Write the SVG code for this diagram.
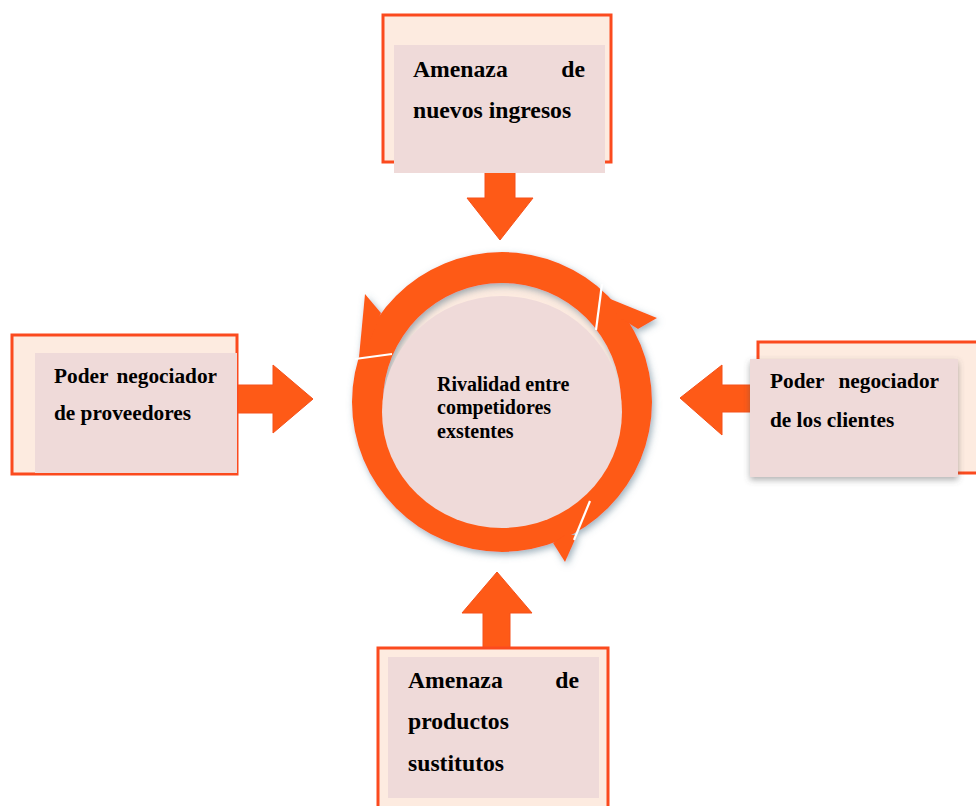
<svg xmlns="http://www.w3.org/2000/svg" width="976" height="806" viewBox="0 0 976 806">
<defs>
<filter id="sh" x="-20%" y="-20%" width="140%" height="140%">
<feDropShadow dx="2" dy="3" stdDeviation="3.5" flood-color="#4f6f86" flood-opacity="0.55"/>
</filter>
<filter id="shb" x="-20%" y="-20%" width="140%" height="140%">
<feDropShadow dx="0" dy="3" stdDeviation="3" flood-color="#555" flood-opacity="0.45"/>
</filter>
</defs>
<style>
.outer{fill:#fdebe0;stroke:#fb4a1e;stroke-width:3}
.pink{fill:#efdad9}
.arrow{fill:#fe5a17;stroke:#f5501a;stroke-width:1}
.ring{fill:#fe5a17}
.gap{stroke:#ffffff;stroke-width:2.2;fill:none}
.t{font-family:"Liberation Serif","Times New Roman",serif;font-weight:bold;fill:#000}
.t24{font-size:23.7px}
.t21{font-size:21.3px}
.t20{font-size:20px}
</style>
<rect width="976" height="806" fill="#ffffff"/>

<g id="connectors">
<path class="arrow" d="M485,172 L515,172 L515,198 L533,198 L500,240 L467,198 L485,198 Z"/>
<path class="arrow" d="M237,385 L273,385 L273,365 L313,399 L273,433 L273,413 L237,413 Z"/>
<path class="arrow" d="M752,385 L722,385 L722,365 L680,398 L722,435 L722,412 L752,412 Z"/>
<path class="arrow" d="M483,649 L483,613 L462,613 L497,572 L532,613 L510,613 L510,649 Z"/>
</g>

<g id="node-center">
<circle cx="502" cy="402" r="120" fill="#fdebe0"/>
<g filter="url(#sh)">
<path class="ring" fill-rule="evenodd" d="M652,402 A150,150 0 1,0 352,402 A150,150 0 1,0 652,402 Z M621,402 A119,119 0 1,0 383,402 A119,119 0 1,0 621,402 Z"/>
<polygon class="ring" points="381,313 365,294 359,357 370,340"/>
<polygon class="ring" points="603,296 657,318 638,329 620,318"/>
<polygon class="ring" points="553,543 565,562 577,535 565,535"/>
</g>
<ellipse cx="502" cy="412" rx="120" ry="116" class="pink"/>
<line class="gap" x1="355" y1="359" x2="392" y2="354"/>
<line class="gap" x1="602" y1="284" x2="596" y2="330"/>
<line class="gap" x1="590" y1="501" x2="574" y2="540"/>
<text class="t t20" x="437" y="391">Rivalidad entre</text>
<text class="t t20" x="437" y="414">competidores</text>
<text class="t t20" x="437" y="438">exstentes</text>
</g>

<g id="node-top">
<rect class="outer" x="383" y="15" width="228" height="147"/>
<rect class="pink" x="394" y="45" width="211" height="128"/>
<text class="t t24" x="413" y="77">Amenaza</text>
<text class="t t24" x="585" y="77" text-anchor="end">de</text>
<text class="t t24" x="413" y="118">nuevos ingresos</text>
</g>

<g id="node-left">
<rect class="outer" x="12" y="335" width="225" height="139"/>
<rect class="pink" x="35" y="353" width="202" height="120"/>
<text class="t t21" x="54" y="383">Poder</text>
<text class="t t21" x="217" y="383" text-anchor="end">negociador</text>
<text class="t t21" x="54" y="420">de proveedores</text>
</g>

<g id="node-right">
<rect class="outer" x="758" y="342" width="230" height="131"/>
<rect class="pink" x="750" y="359" width="208" height="118" filter="url(#shb)"/>
<text class="t t21" x="770" y="388">Poder</text>
<text class="t t21" x="939" y="388" text-anchor="end">negociador</text>
<text class="t t21" x="770" y="427">de los clientes</text>
</g>

<g id="node-bottom">
<rect class="outer" x="378" y="648" width="230" height="170"/>
<rect class="pink" x="388" y="657" width="211" height="141"/>
<text class="t t24" x="408" y="688">Amenaza</text>
<text class="t t24" x="579" y="688" text-anchor="end">de</text>
<text class="t t24" x="408" y="729">productos</text>
<text class="t t24" x="408" y="771">sustitutos</text>
</g>
</svg>
